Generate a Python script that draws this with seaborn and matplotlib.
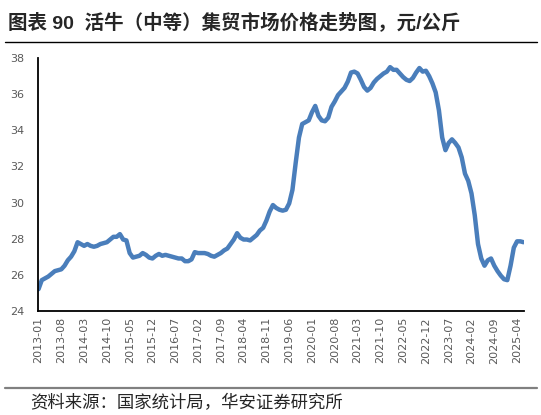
import matplotlib
matplotlib.use("Agg")
import matplotlib.pyplot as plt
import seaborn as sns
import pandas as pd

# monthly price, 2013-01 .. 2025-06, yuan/kg
start_month = "2013-01"
prices = [
    25.2, 25.7, 25.8, 25.9, 26.05, 26.2, 26.25, 26.3, 26.5, 26.8, 27.0, 27.3,
    27.8, 27.7, 27.6, 27.7, 27.6, 27.55, 27.6, 27.7, 27.75, 27.8, 27.95, 28.1,
    28.1, 28.25, 27.95, 27.9, 27.2, 26.95, 27.0, 27.05, 27.2, 27.1, 26.95, 26.9,
    27.05, 27.15, 27.05, 27.1, 27.05, 27.0, 26.95, 26.9, 26.9, 26.75, 26.75, 26.85,
    27.25, 27.2, 27.2, 27.2, 27.15, 27.05, 27.0, 27.1, 27.2, 27.35, 27.45, 27.7,
    27.95, 28.3, 28.05, 27.95, 27.95, 27.9, 28.05, 28.2, 28.45, 28.6, 29.0, 29.5,
    29.86, 29.7, 29.6, 29.55, 29.6, 29.95, 30.7, 32.2, 33.6, 34.35, 34.45, 34.55,
    35.0, 35.35, 34.8, 34.55, 34.5, 34.7, 35.3, 35.6, 35.95, 36.15, 36.35, 36.7,
    37.2, 37.25, 37.15, 36.8, 36.4, 36.2, 36.35, 36.65, 36.85, 37.0, 37.15, 37.25,
    37.5, 37.35, 37.35, 37.15, 36.95, 36.8, 36.73, 36.9, 37.2, 37.45, 37.25, 37.3,
    37.0, 36.6, 36.1, 35.1, 33.6, 32.9, 33.3, 33.5, 33.3, 33.05, 32.5, 31.6,
    31.2, 30.5, 29.3, 27.7, 26.9, 26.5, 26.8, 26.9, 26.5, 26.2, 25.95, 25.75,
    25.7, 26.5, 27.5, 27.85, 27.85, 27.8,
]
y_ticks = [24, 26, 28, 30, 32, 34, 36, 38]
label_step = 7

months = pd.period_range(start_month, periods=len(prices), freq="M")
df = pd.DataFrame({"idx": range(len(prices)), "price": prices,
                   "label": [m.strftime("%Y-%m") for m in months]})

sns.set_style("white")
plt.rcParams["font.family"] = ["DejaVu Sans", "Noto Sans CJK SC"]

fig = plt.figure(figsize=(5.41, 4.15), dpi=100)
ax = fig.add_axes([0.070, 0.251, 0.899, 0.609])

sns.lineplot(data=df, x="idx", y="price", ax=ax, color="#4a7ebb", linewidth=3.2)

ax.set_xlim(-0.2, len(prices) - 0.8)
ax.set_ylim(24, 38)
ax.set_yticks(y_ticks)
tick_pos = list(range(0, len(prices), label_step))
ax.set_xticks(tick_pos)
ax.set_xticklabels(df["label"].iloc[tick_pos], rotation=90)
ax.set_xlabel("")
ax.set_ylabel("")

for side in ["top", "right"]:
    ax.spines[side].set_visible(False)
for side in ["left", "bottom"]:
    ax.spines[side].set_color("black")
    ax.spines[side].set_linewidth(1.3)

ax.tick_params(axis="x", direction="inout", length=5, width=1.1, color="black",
               labelsize=8, labelcolor="#595959", pad=2)
ax.tick_params(axis="y", length=0, labelsize=8, labelcolor="#595959", pad=10)

fig.text(0.015, 0.947, "图表 90  活牛（中等）集贸市场价格走势图，元/公斤",
         fontsize=14, fontweight="bold", va="center", ha="left",
         family=["Liberation Sans", "Noto Sans CJK SC"])
fig.add_artist(plt.Line2D([0.009, 0.993], [0.899, 0.899], color="black", linewidth=1.0))
fig.add_artist(plt.Line2D([0.009, 0.993], [0.065, 0.065], color="#808080", linewidth=1.6))
fig.text(0.055, 0.029, "资料来源：国家统计局，华安证券研究所", fontsize=12.5, va="center",
         ha="left", fontweight="light", family=["Noto Sans CJK SC"])

fig.savefig("out.png", dpi=100)
